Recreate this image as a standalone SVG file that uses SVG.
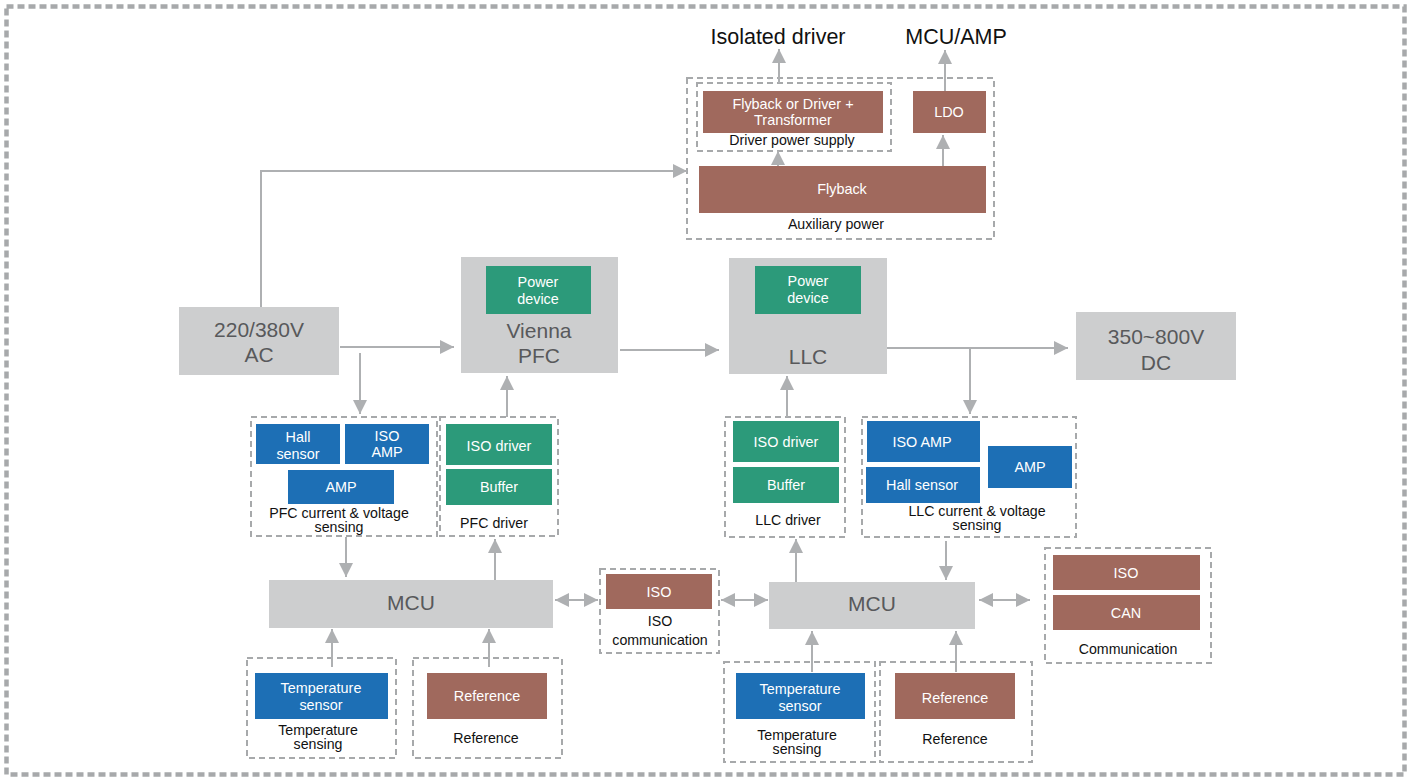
<svg xmlns="http://www.w3.org/2000/svg" width="1412" height="777" viewBox="0 0 1412 777">
<style>
text{font-family:"Liberation Sans",Arial,sans-serif;text-anchor:middle;dominant-baseline:central}
.frame{fill:none;stroke:#a7a9ab;stroke-width:4.5;stroke-dasharray:7 4}
.dash{fill:none;stroke:#a7a9ab;stroke-width:2;stroke-dasharray:6 4}
.gray{fill:#cdcecf}
.brown{fill:#a0695d}
.green{fill:#2c9a7a}
.blue{fill:#1d6fb5}
.big{font-size:21px;fill:#58595b}
.head{font-size:21.5px;fill:#111}
.w{font-size:14.4px;fill:#fff}
.cap{font-size:14.2px;fill:#111}
.conn path{fill:none;stroke:#aeb0b2;stroke-width:2}
</style>
<defs>
<marker id="ah" viewBox="0 0 14 14" refX="14" refY="7" markerWidth="14" markerHeight="14" markerUnits="userSpaceOnUse" orient="auto-start-reverse">
<path d="M0,0 L14,7 L0,14 z" fill="#aeb0b2"/>
</marker>
</defs>
<rect x="0" y="0" width="1412" height="777" fill="#fff"/>
<rect class="frame" x="6.5" y="6.5" width="1398" height="768"/>

<g id="labels-top">
<text class="head" x="778" y="37">Isolated driver</text>
<text class="head" x="956" y="37">MCU/AMP</text>
</g>

<g id="aux-power">
<rect class="dash" x="687" y="78" width="307" height="161"/>
<text class="cap" x="836" y="224">Auxiliary power</text>
</g>
<g id="driver-power-supply">
<rect class="dash" x="697" y="83" width="194" height="68"/>
<rect class="brown" x="703" y="91" width="180" height="42"/>
<text class="w" x="793" y="104">Flyback or Driver +</text>
<text class="w" x="793" y="120">Transformer</text>
<text class="cap" x="792" y="140">Driver power supply</text>
</g>
<g id="ldo">
<rect class="brown" x="913" y="91" width="73" height="42"/>
<text class="w" x="949" y="112">LDO</text>
</g>
<g id="flyback">
<rect class="brown" x="699" y="166" width="287" height="47"/>
<text class="w" x="842" y="189">Flyback</text>
</g>

<g id="ac">
<rect class="gray" x="179" y="307" width="160" height="68"/>
<text class="big" x="259" y="329">220/380V</text>
<text class="big" x="259" y="354">AC</text>
</g>
<g id="vienna">
<rect class="gray" x="461" y="257" width="157" height="116"/>
<rect class="green" x="486" y="266" width="105" height="48"/>
<text class="w" x="538" y="282">Power</text>
<text class="w" x="538" y="299">device</text>
<text class="big" x="539" y="330">Vienna</text>
<text class="big" x="539" y="355">PFC</text>
</g>
<g id="llc">
<rect class="gray" x="729" y="258" width="158" height="116"/>
<rect class="green" x="755" y="266" width="106" height="48"/>
<text class="w" x="808" y="281">Power</text>
<text class="w" x="808" y="298">device</text>
<text class="big" x="808" y="356">LLC</text>
</g>
<g id="dc">
<rect class="gray" x="1076" y="312" width="160" height="68"/>
<text class="big" x="1156" y="336">350~800V</text>
<text class="big" x="1156" y="362">DC</text>
</g>

<g id="pfc-sensing">
<rect class="dash" x="251" y="417" width="186" height="119"/>
<rect class="blue" x="256" y="424" width="84" height="40"/>
<text class="w" x="298" y="437">Hall</text>
<text class="w" x="298" y="454">sensor</text>
<rect class="blue" x="345" y="424" width="84" height="40"/>
<text class="w" x="387" y="436">ISO</text>
<text class="w" x="387" y="452">AMP</text>
<rect class="blue" x="288" y="470" width="106" height="34"/>
<text class="w" x="341" y="487">AMP</text>
<text class="cap" x="339" y="513">PFC current &amp; voltage</text>
<text class="cap" x="339" y="527">sensing</text>
</g>
<g id="pfc-driver">
<rect class="dash" x="440" y="417" width="118" height="119"/>
<rect class="green" x="446" y="424" width="106" height="41"/>
<text class="w" x="499" y="446">ISO driver</text>
<rect class="green" x="446" y="469" width="106" height="36"/>
<text class="w" x="499" y="487">Buffer</text>
<text class="cap" x="494" y="523">PFC driver</text>
</g>
<g id="llc-driver">
<rect class="dash" x="725" y="417" width="120" height="120"/>
<rect class="green" x="733" y="421" width="106" height="41"/>
<text class="w" x="786" y="442">ISO driver</text>
<rect class="green" x="733" y="467" width="106" height="36"/>
<text class="w" x="786" y="485">Buffer</text>
<text class="cap" x="788" y="520">LLC driver</text>
</g>
<g id="llc-sensing">
<rect class="dash" x="862" y="417" width="214" height="120"/>
<rect class="blue" x="867" y="421" width="113" height="41"/>
<text class="w" x="922" y="442">ISO AMP</text>
<rect class="blue" x="866" y="467" width="114" height="36"/>
<text class="w" x="922" y="485">Hall sensor</text>
<rect class="blue" x="988" y="446" width="84" height="42"/>
<text class="w" x="1030" y="467">AMP</text>
<text class="cap" x="977" y="511">LLC current &amp; voltage</text>
<text class="cap" x="977" y="525">sensing</text>
</g>

<g id="mcu-left">
<rect class="gray" x="269" y="580" width="284" height="48"/>
<text class="big" x="411" y="602">MCU</text>
</g>
<g id="iso-comm">
<rect class="dash" x="600" y="569" width="119" height="84"/>
<rect class="brown" x="606" y="574" width="106" height="35"/>
<text class="w" x="659" y="592">ISO</text>
<text class="cap" x="660" y="621">ISO</text>
<text class="cap" x="660" y="640">communication</text>
</g>
<g id="mcu-right">
<rect class="gray" x="769" y="582" width="206" height="47"/>
<text class="big" x="872" y="603">MCU</text>
</g>
<g id="communication">
<rect class="dash" x="1045" y="548" width="166" height="115"/>
<rect class="brown" x="1053" y="555" width="147" height="35"/>
<text class="w" x="1126" y="573">ISO</text>
<rect class="brown" x="1053" y="595" width="147" height="35"/>
<text class="w" x="1126" y="613">CAN</text>
<text class="cap" x="1128" y="649">Communication</text>
</g>
<g id="temp-left">
<rect class="dash" x="247" y="658" width="149" height="100"/>
<rect class="blue" x="255" y="673" width="133" height="46"/>
<text class="w" x="321" y="688">Temperature</text>
<text class="w" x="321" y="705">sensor</text>
<text class="cap" x="318" y="730">Temperature</text>
<text class="cap" x="318" y="744">sensing</text>
</g>
<g id="ref-left">
<rect class="dash" x="413" y="658" width="149" height="100"/>
<rect class="brown" x="427" y="673" width="120" height="46"/>
<text class="w" x="487" y="696">Reference</text>
<text class="cap" x="486" y="738">Reference</text>
</g>
<g id="temp-right">
<rect class="dash" x="724" y="662" width="151" height="100"/>
<rect class="blue" x="736" y="673" width="129" height="46"/>
<text class="w" x="800" y="689">Temperature</text>
<text class="w" x="800" y="706">sensor</text>
<text class="cap" x="797" y="735">Temperature</text>
<text class="cap" x="797" y="749">sensing</text>
</g>
<g id="ref-right">
<rect class="dash" x="880" y="662" width="152" height="100"/>
<rect class="brown" x="895" y="673" width="120" height="46"/>
<text class="w" x="955" y="698">Reference</text>
<text class="cap" x="955" y="739">Reference</text>
</g>

<g class="conn" id="connectors">
<path d="M261,307 V171 H687" marker-end="url(#ah)"/>
<path d="M779,83 V49" marker-end="url(#ah)"/>
<path d="M945,91 V50" marker-end="url(#ah)"/>
<path d="M778,166 V151" marker-end="url(#ah)"/>
<path d="M943,166 V135" marker-end="url(#ah)"/>
<path d="M340,347 H454" marker-end="url(#ah)"/>
<path d="M360,353 V414" marker-end="url(#ah)"/>
<path d="M620,350 H719" marker-end="url(#ah)"/>
<path d="M887,348 H1068" marker-end="url(#ah)"/>
<path d="M970,348 V414" marker-end="url(#ah)"/>
<path d="M507,417 V376" marker-end="url(#ah)"/>
<path d="M787,417 V376" marker-end="url(#ah)"/>
<path d="M346,537 V577" marker-end="url(#ah)"/>
<path d="M495,580 V539" marker-end="url(#ah)"/>
<path d="M796,582 V539" marker-end="url(#ah)"/>
<path d="M946,541 V580" marker-end="url(#ah)"/>
<path d="M555,600 H598" marker-start="url(#ah)" marker-end="url(#ah)"/>
<path d="M721,600 H768" marker-start="url(#ah)" marker-end="url(#ah)"/>
<path d="M979,600 H1030" marker-start="url(#ah)" marker-end="url(#ah)"/>
<path d="M332,667 V629" marker-end="url(#ah)"/>
<path d="M489,667 V629" marker-end="url(#ah)"/>
<path d="M812,672 V631" marker-end="url(#ah)"/>
<path d="M956,672 V631" marker-end="url(#ah)"/>
</g>
</svg>
